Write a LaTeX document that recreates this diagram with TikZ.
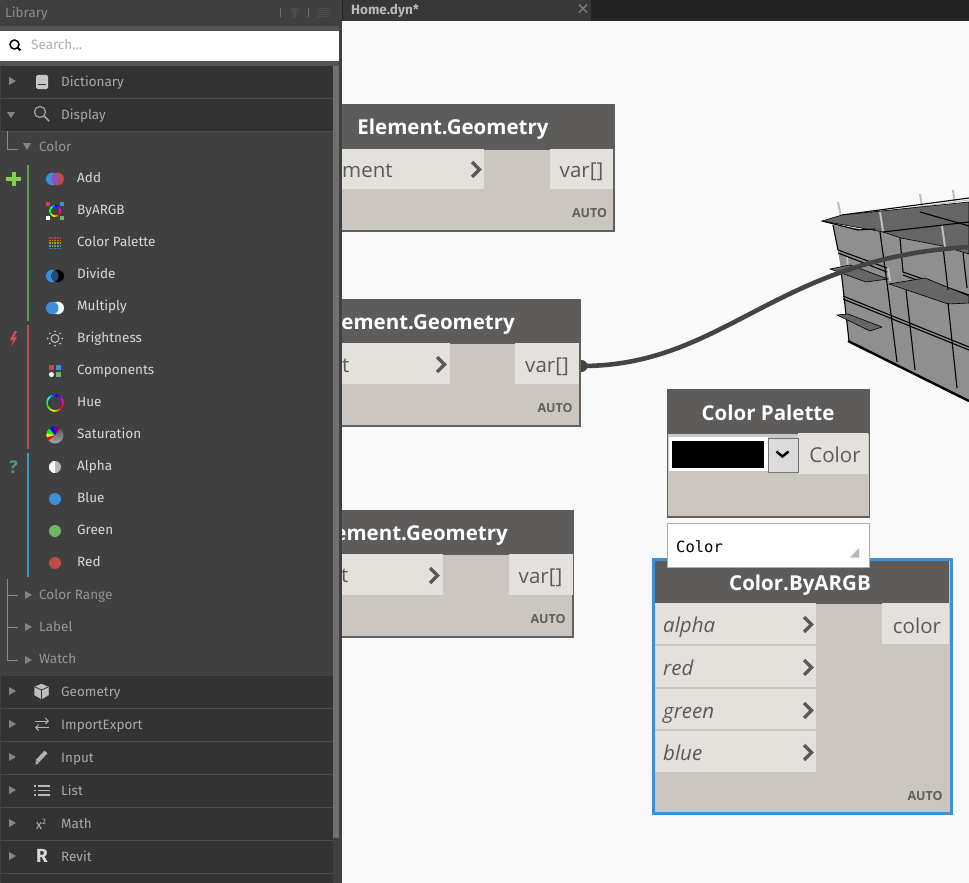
\documentclass[tikz,border=0pt]{standalone}
\usepackage{fontspec}
\setmainfont{Open Sans}
\newfontfamily\libfont{Fira Sans}
\setmonofont{DejaVu Sans Mono}
\usetikzlibrary{arrows.meta, positioning, shapes.geometric, calc}

\definecolor{panelgray}{HTML}{404040}
\definecolor{rowgray}{HTML}{333333}
\definecolor{sepgray}{HTML}{4C4C4C}
\definecolor{canvasgray}{HTML}{F9F9F9}
\definecolor{headgray}{HTML}{5E5C5A}
\definecolor{bodygray}{HTML}{CBC7C0}
\definecolor{portgray}{HTML}{E4E1DC}
\definecolor{inkgray}{HTML}{5A5A5A}
\definecolor{wiregray}{HTML}{444444}
\definecolor{selblue}{HTML}{3D8FD6}
\definecolor{icblue}{HTML}{3D8FDC}
\definecolor{icred}{HTML}{C04A48}
\definecolor{icgreen}{HTML}{70B566}
\definecolor{icviolet}{HTML}{8A4FC0}
\definecolor{bargreen}{HTML}{5F9B59}
\definecolor{barred}{HTML}{B0524D}
\definecolor{barblue}{HTML}{3F98BE}
\definecolor{markgreen}{HTML}{86D04A}
\definecolor{markred}{HTML}{D0504C}
\definecolor{markteal}{HTML}{4F8C96}

\begin{document}
\begin{tikzpicture}[x=1pt, y=-1pt,
      box/.style={rectangle, inner sep=0pt, outer sep=0pt, anchor=north west},
      item/.style={anchor=west, inner sep=0pt, font=\libfont\fontsize{13.5}{15}\selectfont, text=white!85!black, text height=13pt, text depth=3pt},
      cat/.style={item, text=white!66!black},
      sub/.style={item, text=white!58!black},
      title/.style={font=\fontsize{20.5}{24}\selectfont\bfseries, text=white, inner sep=0pt, text height=19pt, text depth=5pt},
      porttext/.style={font=\fontsize{20.5}{24}\selectfont, text=inkgray, inner sep=0pt, text height=19pt, text depth=5pt},
      intext/.style={porttext, anchor=west, font=\fontsize{20.5}{24}\selectfont\itshape},
      lace/.style={font=\fontsize{12.5}{13}\selectfont\bfseries, text=black!52!bodygray, inner sep=0pt},
      chev/.style={draw=inkgray, line width=3.4pt},
      tri/.style={fill=white!52!black},
      tree/.style={draw=white!55!black, line width=0.8pt},
      wall/.style={fill=black!44, draw=none},
      slab/.style={fill=black!60, draw=black, line width=0.6pt},
      edge/.style={draw=black, line width=1.1pt},
      post/.style={draw=black!25, line width=2pt}]

      \useasboundingbox (0,0) rectangle (969,883);
      \fill[canvasgray] (0,0) rectangle (969,883);

      % Tab bar
      \fill[black!86] (341,0) rectangle (969,21);
      \node[box, fill=black!78, minimum width=248pt, minimum height=21pt] (tab) at (343,0) {};
      \node[item, text=white!72!black, font=\libfont\bfseries\fontsize{13.5}{15}\selectfont] (tabname) at (351,10) {Home.dyn*};
      \node[text=white!50!black, inner sep=0pt, font=\fontsize{21}{21}\selectfont] (tabclose) at (583,10.5) {×};

      % Preview geometry
      \fill[wall] (833,225) -- (883,232) -- (969,226) -- (969,401) -- (849,341) -- (841,270) -- (838,250) -- cycle;
      \draw[post] (838,202) -- (842,222);
      \draw[post] (920,194) -- (923,212);
      \draw[post] (953,190) -- (955,206);
      \draw[edge] (842,215) -- (969,198);
      \draw[white!70!black, line width=0.7pt] (842,217) -- (969,200);
      \filldraw[slab] (822,221) -- (842,215) -- (969,202) -- (969,254) -- (943,246) -- (901,238) -- (883,232) -- cycle;
      \draw[edge] (822,221) -- (858,230) -- (875,229);
      \draw[edge] (883,232) -- (969,222);
      \draw[edge] (920,212) -- (969,226);
      \draw[post] (880,212) -- (883,231);
      \draw[post] (942,226) -- (945,247);
      \draw[post] (847,257) -- (848,268);
      \draw[post] (888,268) -- (890,281);
      \draw[post] (948,290) -- (950,301);
      \draw[edge] (838,250) -- (887,268);
      \draw[edge] (838,253) -- (887,272);
      \draw[edge] (903,272) -- (969,295);
      \draw[edge] (903,275) -- (969,299);
      \filldraw[slab] (830,269) -- (850,265) -- (888,279) -- (866,282) -- cycle;
      \filldraw[slab] (889,284) -- (925,278) -- (969,296) -- (969,303) -- (948,304) -- (907,290) -- cycle;
      \draw[edge] (843,296) -- (969,347);
      \draw[edge] (843,299) -- (969,350);
      \draw[edge] (880,232) -- (887,283) -- (897,362);
      \draw[edge] (906,290) -- (915,370);
      \draw[edge] (948,303) -- (957,388);
      \draw[edge] (900,238) -- (903,272);
      \draw[edge] (943,247) -- (948,290);
      \draw[edge] (963,253) -- (967,288);
      \draw[edge] (833,225) -- (838,250);
      \draw[edge] (841,270) -- (849,341);
      \filldraw[slab] (837,315) -- (848,314) -- (882,327) -- (870,331) -- cycle;
      \draw[black, line width=2.4pt] (848,341) -- (969,401);

      % Wire
      \coordinate (wireend) at (969,247);
      \node[circle, fill=wiregray, minimum size=12pt, inner sep=0pt] (portb) at (581.5,366) {};
      \draw[wiregray, line width=4.6pt] (portb.center) .. controls (725,366) and (775,258) .. (wireend);

      % Element.Geometry, top
      \node[box, fill=bodygray, draw=black!52!bodygray, line width=1.5pt, minimum width=274pt, minimum height=82pt] (bodya) at (340,149) {};
      \node[box, fill=headgray, minimum width=275pt, minimum height=45pt] (heada) at (340,104) {};
      \node[title] (titlea) at (453,127.5) {Element.Geometry};
      \node[box, fill=portgray, minimum width=144pt, minimum height=40pt] (ina) at (340,149) {};
      \node[box, fill=portgray, minimum width=63pt, minimum height=40pt] (outa) at (550,149) {};
      \node[porttext, anchor=west] (inlabela) at (342,170) {ment};
      \node[porttext] (outlabela) at (581.5,170) {var[]};
      \draw[chev] (472,162) -- (479.5,169.5) -- (472,177);
      \node[lace] (autoa) at (589.5,213) {AUTO};

      % Element.Geometry, middle
      \node[box, fill=bodygray, draw=black!52!bodygray, line width=1.5pt, minimum width=240pt, minimum height=83pt] (bodyb) at (340,343) {};
      \node[box, fill=headgray, minimum width=241pt, minimum height=44pt] (headb) at (340,299) {};
      \node[title, anchor=east] (titleb) at (515,322.5) {ement.Geometry};
      \node[box, fill=portgray, minimum width=110pt, minimum height=41pt] (inb) at (340,343) {};
      \node[box, fill=portgray, minimum width=64pt, minimum height=41pt] (outb) at (515,343) {};
      \node[porttext, anchor=west] (inlabelb) at (342,365) {t};
      \node[porttext] (outlabelb) at (547,365) {var[]};
      \draw[chev] (437,357) -- (444.5,364.5) -- (437,372);
      \node[lace] (autob) at (555,408) {AUTO};

      % Element.Geometry, bottom
      \node[box, fill=bodygray, draw=black!52!bodygray, line width=1.5pt, minimum width=233pt, minimum height=83pt] (bodyc) at (340,554) {};
      \node[box, fill=headgray, minimum width=234pt, minimum height=44pt] (headc) at (340,510) {};
      \node[title, anchor=east] (titlec) at (508,533.5) {ement.Geometry};
      \node[box, fill=portgray, minimum width=103pt, minimum height=41pt] (inc) at (340,554) {};
      \node[box, fill=portgray, minimum width=64pt, minimum height=41pt] (outc) at (509,554) {};
      \node[porttext, anchor=west] (inlabelc) at (341,575) {t};
      \node[porttext] (outlabelc) at (540.5,576) {var[]};
      \draw[chev] (430,568) -- (437.5,575.5) -- (430,583);
      \node[lace] (autoc) at (548,619) {AUTO};

      % Color Palette
      \node[box, fill=bodygray, draw=black!52!bodygray, line width=1.5pt, minimum width=202pt, minimum height=84pt] (bodyp) at (667.5,433) {};
      \node[box, fill=headgray, minimum width=203pt, minimum height=44pt] (headp) at (667,389) {};
      \node[title] (titlep) at (768,413) {Color Palette};
      \node[box, fill=portgray, minimum width=70pt, minimum height=41pt] (outp) at (798,433) {};
      \node[box, fill=white, minimum width=99pt, minimum height=34pt] (swatch) at (669,437) {};
      \node[box, fill=black, minimum width=92pt, minimum height=27pt] (swatchfill) at (672,441) {};
      \node[box, fill=black!14, draw=black!55, line width=1pt, minimum width=30pt, minimum height=34pt] (dropdown) at (768,438) {};
      \draw[black, line width=2.4pt] (776.5,451.5) -- (782.5,456.5) -- (788.5,451.5);
      \node[porttext] (outlabelp) at (835,455) {Color};

      % Color.ByARGB
      \node[box, fill=bodygray, draw=selblue, line width=3.4pt, minimum width=298pt, minimum height=254pt] (bodyz) at (653.5,559.5) {};
      \node[box, fill=headgray, minimum width=294pt, minimum height=43pt] (headz) at (655,561) {};
      \node[title] (titlez) at (800,583) {Color.ByARGB};
      \foreach \port/\y/\h in {alpha/603/41, red/646/41, green/689/40, blue/731/41} {
        \node[box, fill=portgray, minimum width=161pt, minimum height=\h pt] (in\port) at (655,\y) {};
        \node[intext] (label\port) at (663,\y+22) {\port};
        \draw[chev] (804,\y+14) -- (811.5,\y+21.5) -- (804,\y+29);
      }
      \node[box, fill=portgray, minimum width=67pt, minimum height=41pt] (outz) at (882,603) {};
      \node[porttext] (outlabelz) at (917,626) {color};
      \node[lace] (autoz) at (925,796) {AUTO};

      % Watch preview
      \node[box, fill=white, draw=black!32, line width=1.2pt, minimum width=202pt, minimum height=44pt] (watch) at (667.5,523.5) {};
      \node[anchor=west, inner sep=0pt, font=\ttfamily\fontsize{15.5}{18}\selectfont] (watchtext) at (676,547) {Color};
      \fill[black!28] (850,557.5) -- (859,548) -- (859,557.5) -- cycle;

      % Library panel
      \fill[panelgray] (0,0) rectangle (342,883);
      \fill[black!67] (0,26) rectangle (339,31);
      \fill[black!67] (0,61) rectangle (339,66);
      \node[item, text=white!55!black] (libtitle) at (5,13) {Library};
      \draw[white!45!black, line width=1pt] (280,8) -- (280,17);
      \draw[white!45!black, line width=1pt] (308,8) -- (308,17);
      \fill[white!30!black] (289,8) -- (300,8) -- (296,13) -- (296,18) -- (293,18) -- (293,13) -- cycle;
      \foreach \y in {8,10,12,14,16}
        \draw[white!30!black, line width=0.9pt] (317,\y) -- (330,\y);
      \node[box, fill=white, minimum width=339pt, minimum height=30pt] (searchbox) at (0,31) {};
      \draw[black, line width=1.5pt] (14.5,44.5) circle [radius=4.5];
      \draw[black, line width=1.8pt] (17.5,47.5) -- (20.5,50.5);
      \node[item, text=black!32] (searchtext) at (31,45) {Search...};

      % Top level rows
      \foreach \top/\name/\y in {66/Dictionary/81, 99/Display/114, 676/Geometry/691, 709/ImportExport/724, 742/Input/757, 775/List/790, 808/Math/823, 841/Revit/856} {
        \node[box, fill=rowgray, minimum width=332pt, minimum height=32pt] (row\y) at (1,\top) {};
        \draw[sepgray, line width=0.8pt] (1,\top+32.5) -- (333,\top+32.5);
        \node[cat] (name\y) at (61,\y) {\name};
      }
      \fill[rowgray] (1,874) rectangle (333,883);
      \foreach \y in {81, 691, 724, 757, 790, 823, 856}
        \fill[tri] (9,\y-4) -- (16,\y) -- (9,\y+4) -- cycle;
      \fill[tri] (7,112) -- (15,112) -- (11,118) -- cycle;

      % Scroll bar
      \fill[white!44!black] (333,66) rectangle (339,838);

      % Icons of the top level rows
      \fill[white!78!black, rounded corners=1.5pt] (36,75) rectangle (48,89);
      \draw[rowgray, line width=1pt] (38,84.5) -- (46,84.5);
      \draw[white!65!black, line width=1.2pt] (40,112) circle [radius=5.5];
      \draw[white!65!black, line width=1.6pt] (44,116) -- (49,121);
      \filldraw[fill=white!75!black, draw=white!75!black, line join=round] (34.5,687) -- (41.5,684) -- (48.5,687) -- (48.5,695) -- (41.5,699) -- (34.5,695) -- cycle;
      \draw[rowgray, line width=0.8pt] (35,687) -- (41.5,690) -- (48,687) (41.5,690) -- (41.5,699);
      \draw[-{Straight Barb[length=3pt,width=6pt]}, white!70!black, line width=0.9pt] (35,721) -- (49,721);
      \draw[-{Straight Barb[length=3pt,width=6pt]}, white!70!black, line width=0.9pt] (49,727.5) -- (35,727.5);
      \draw[white!70!black, line width=4pt] (37.5,761) -- (46,752);
      \fill[white!70!black] (35.5,765) -- (36,760) -- (39,763) -- cycle;
      \foreach \y in {786,790.5,795} {
        \fill[white!72!black] (34,\y-0.9) rectangle (36,\y+0.9);
        \draw[white!72!black, line width=1.4pt] (38,\y) -- (50,\y);
      }
      \node[inner sep=0pt, text=white!72!black, font=\libfont\fontsize{13}{15}\selectfont] (iconmath) at (41,824) {x\raisebox{5pt}{\fontsize{8}{9}\selectfont 2}};
      \node[inner sep=0pt, text=white!85!black, font=\libfont\bfseries\fontsize{19}{20}\selectfont] (iconrevit) at (42,856) {R};

      % Tree lines
      \draw[tree] (7,131) -- (7,149) -- (18,149);
      \draw[tree] (7,579) -- (7,660) -- (18,660);
      \draw[tree] (7,595) -- (18,595);
      \draw[tree] (7,627) -- (18,627);
      \fill[tri] (23,143) -- (31,143) -- (27,150) -- cycle;
      \foreach \y in {595,627,660}
        \fill[tri] (25,\y-4) -- (32,\y) -- (25,\y+4) -- cycle;
      \foreach \name/\y in {Color/146, Color Range/594, Label/626, Watch/658}
        \node[sub] (group\y) at (39,\y) {\name};

      % Color items
      \foreach \name/\y in {Add/177, ByARGB/209, Color Palette/241, Divide/273, Multiply/305, Brightness/337, Components/369, Hue/401, Saturation/433, Alpha/465, Blue/497, Green/529, Red/561}
        \node[item] (item\y) at (77,\y) {\name};

      % Group bars and marks
      \draw[bargreen, line width=1.4pt] (28,165) -- (28,321);
      \draw[barred, line width=1.4pt] (28,325) -- (28,449);
      \draw[barblue, line width=1.4pt] (28,453) -- (28,577);
      \fill[markgreen] (11.5,172) rectangle (15.5,186);
      \fill[markgreen] (6,177) rectangle (21,181);
      \fill[markred] (14.5,331) -- (10,340) -- (13,340) -- (11.5,346.5) -- (17,337) -- (14,337) -- (17,331) -- cycle;
      \node[inner sep=0pt, text=markteal, font=\libfont\bfseries\fontsize{18}{19}\selectfont] (markhelp) at (13.5,467) {?};

      % Color icons
      \fill[icblue] (52.3,179) circle [radius=6.3];
      \fill[icred] (57.7,179) circle [radius=6.3];
      \begin{scope}
        \clip (52.3,179) circle [radius=6.3];
        \fill[icviolet] (57.7,179) circle [radius=6.3];
      \end{scope}
      \fill[icred] (46,202) rectangle (50,206);
      \fill[icblue] (60,202) rectangle (64,206);
      \fill[white] (46,216) rectangle (50,220);
      \fill[icgreen] (60,216) rectangle (64,220);
      \foreach \a in {0,30,...,330} {
        \definecolor{ringcol}{Hsb}{\a,1,1}
        \draw[ringcol, line width=1.6pt] (55,211) ++(\a+30:5.2) arc [start angle=\a+30, end angle=\a+62, radius=5.2];
      }
      \foreach \i/\c in {0/icred, 1/orange, 2/yellow!70!black, 3/icgreen, 4/icblue}
        \foreach \j in {0,...,4}
          \fill[\c, opacity=0.8] (49+\j*2.7,237+\i*2.7) rectangle ++(1.6,1.6);
      \fill[icblue] (52.3,276) circle [radius=6.3];
      \fill[black] (57.7,276) circle [radius=6.3];
      \begin{scope}
        \clip (52.3,276) circle [radius=6.3];
        \fill[icblue!55!black] (57.7,276) circle [radius=6.3];
      \end{scope}
      \fill[white] (57.7,308) circle [radius=6.3];
      \fill[icblue] (52.3,308) circle [radius=6.3];
      \draw[white!75!black, line width=1pt] (55,338.5) circle [radius=4];
      \foreach \a in {0,45,...,315}
        \fill[white!85!black] (55,338.5) ++(\a:7.3) circle [radius=0.9];
      \fill[icred] (49,365) rectangle (54,370);
      \fill[icblue] (56,365) rectangle (61,370);
      \fill[white] (51.5,374.5) circle [radius=2.5];
      \fill[icgreen] (56,372) rectangle (61,377);
      \foreach \a in {0,20,...,340} {
        \definecolor{ringcol}{Hsb}{\a,1,1}
        \draw[ringcol, line width=1.6pt] (55,403) ++(\a+30:8) arc [start angle=\a+30, end angle=\a+52, radius=8];
      }
      \shade[top color=black!70, bottom color=black!35] (55,435) circle [radius=8.5];
      \foreach \a/\c in {140/red, 165/yellow, 190/green, 230/blue, 265/violet}
        \fill[\c] (55,435) -- ++(\a:8.5) arc [start angle=\a, end angle=\a+40, radius=8.5] -- cycle;
      \fill[white!72!black] (55,467) circle [radius=6];
      \fill[white] (55,461) arc [start angle=-90, end angle=-270, radius=6] -- cycle;
      \fill[icblue] (55,499) circle [radius=6];
      \fill[icgreen] (55,531) circle [radius=6];
      \fill[icred] (55,563) circle [radius=6];
    \end{tikzpicture}
\end{document}
